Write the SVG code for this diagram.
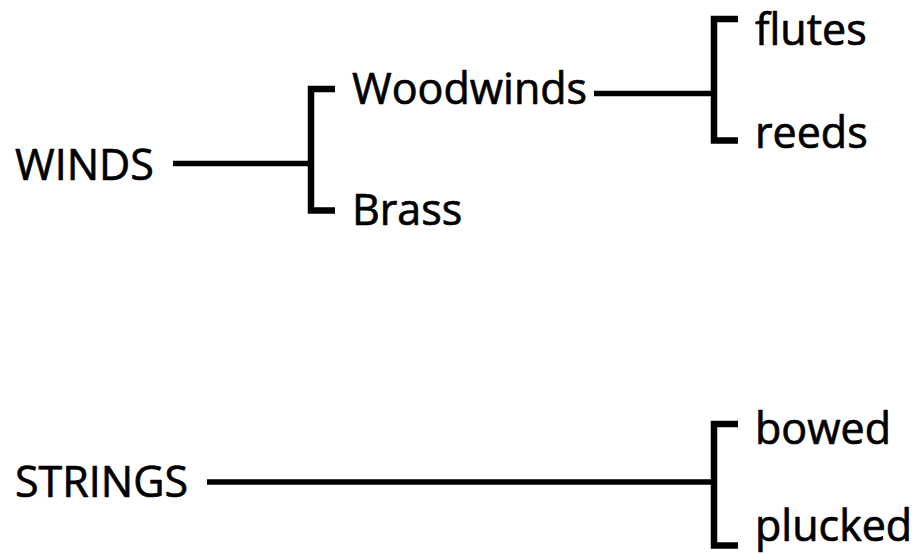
<svg xmlns="http://www.w3.org/2000/svg" width="920" height="554" viewBox="0 0 920 554">
  <style>
    .lbl { font-family: "Open Sans", "Noto Sans", "Liberation Sans", sans-serif; font-size: 43px; font-weight: 400; fill: #000; stroke: #000; stroke-width: 0.7; stroke-linejoin: round; }
    .ln { stroke: #000; stroke-width: 5.5; fill: none; stroke-linecap: butt; }
    .br { stroke: #000; stroke-width: 6.5; fill: none; stroke-linecap: butt; stroke-linejoin: miter; }
  </style>
  <rect width="920" height="554" fill="#fff"/>

  <g id="connectors">
    <!-- WINDS branch -->
    <path class="ln" d="M173 163.5 H311"/>
    <path class="br" d="M335 89 H311 V210.5 H335"/>
    <!-- Woodwinds branch -->
    <path class="ln" d="M594 93.5 H714"/>
    <path class="br" d="M738 19 H714 V140.5 H738"/>
    <!-- STRINGS branch -->
    <path class="ln" d="M207 482 H714"/>
    <path class="br" d="M738 424 H714 V545.5 H738"/>
  </g>

  <g id="winds"><text class="lbl" x="15" y="180">WINDS</text></g>
  <g id="woodwinds"><text class="lbl" x="352" y="104">Woodwinds</text></g>
  <g id="brass"><text class="lbl" x="352" y="225">Brass</text></g>
  <g id="flutes"><text class="lbl" x="755" y="45">flutes</text></g>
  <g id="reeds"><text class="lbl" x="755" y="148">reeds</text></g>
  <g id="strings"><text class="lbl" x="15" y="497">STRINGS</text></g>
  <g id="bowed"><text class="lbl" x="755" y="444">bowed</text></g>
  <g id="plucked"><text class="lbl" x="755" y="541">plucked</text></g>
</svg>
